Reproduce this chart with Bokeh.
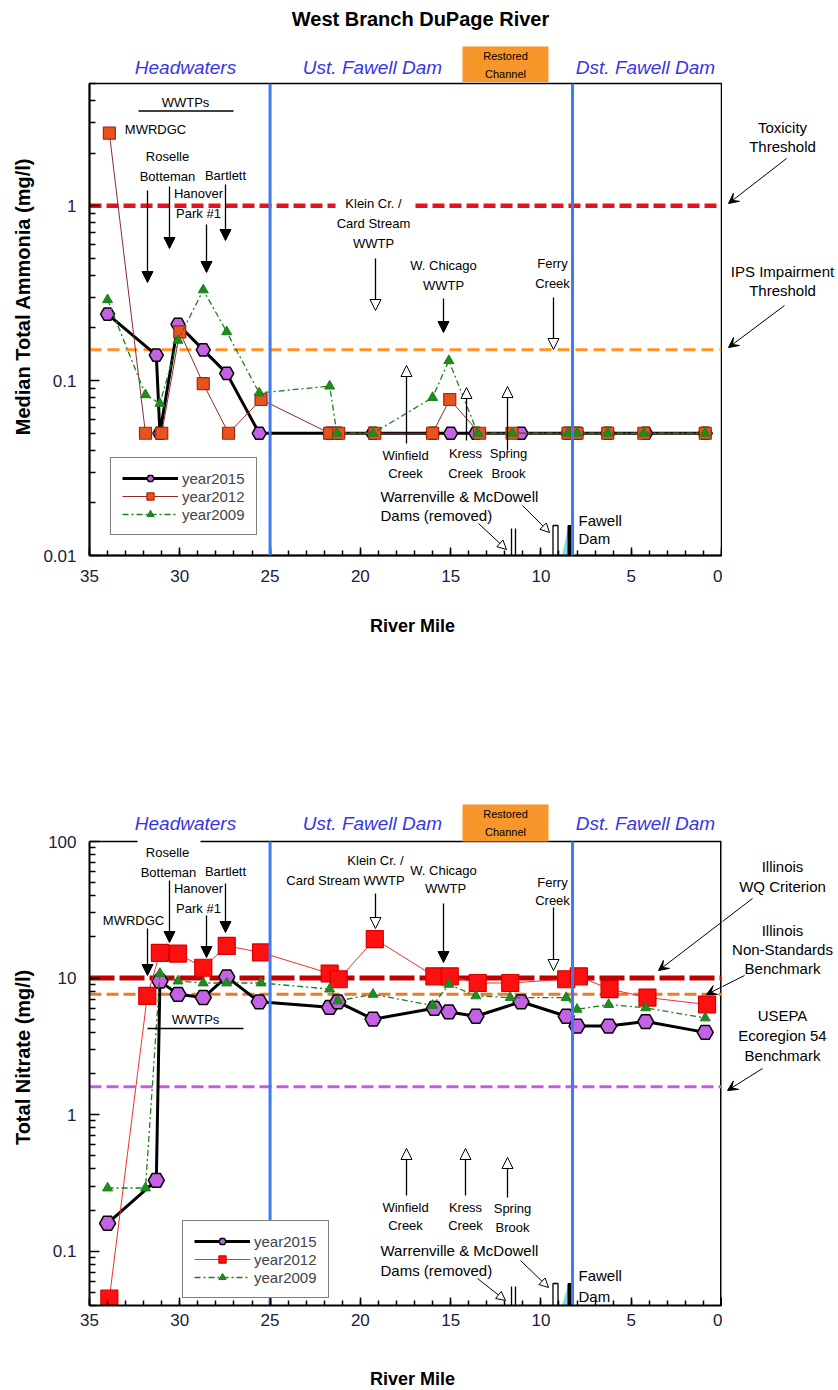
import math
from bokeh.plotting import figure
from bokeh.models import (Label, Arrow, NormalHead, VeeHead, Legend, LegendItem,
                          FixedTicker, Span, Range1d, CustomJSTickFormatter)
from bokeh.layouts import column, row
from bokeh.embed import file_html
from bokeh.resources import INLINE

FONT = "Liberation Sans"

# ------------------------------------------------------------------ data
mile_ticks = [35, 30, 25, 20, 15, 10, 5, 0]
mile_minor = list(range(0, 36))

# Ammonia (mg/l)
nh3_mile_2015 = [34.0, 31.3, 31.1, 30.1, 28.7, 27.4, 25.6, 21.7, 21.25, 19.3, 16.0, 15.0, 13.6, 11.1, 8.5, 8.0, 6.3, 4.2, 0.9]
nh3_2015 = [0.24, 0.14, 0.05, 0.21, 0.15, 0.11, 0.05, 0.05, 0.05, 0.05, 0.05, 0.05, 0.05, 0.05, 0.05, 0.05, 0.05, 0.05, 0.05]
nh3_mile_2012 = [33.9, 31.9, 31.0, 30.0, 28.7, 27.3, 25.5, 21.7, 21.2, 19.2, 16.0, 15.05, 13.4, 11.6, 8.5, 8.0, 6.3, 4.3, 0.9]
nh3_2012 = [2.6, 0.05, 0.05, 0.19, 0.096, 0.05, 0.078, 0.05, 0.05, 0.05, 0.05, 0.078, 0.05, 0.05, 0.05, 0.05, 0.05, 0.05, 0.05]
nh3_mile_2009 = [34.0, 31.9, 31.1, 30.1, 28.7, 27.4, 25.6, 21.7, 21.3, 19.3, 16.0, 15.1, 13.5, 11.6, 8.5, 8.0, 6.3, 4.3, 0.9]
nh3_2009 = [0.29, 0.083, 0.074, 0.17, 0.33, 0.19, 0.085, 0.093, 0.05, 0.05, 0.08, 0.13, 0.05, 0.05, 0.05, 0.05, 0.05, 0.05, 0.05]
nh3_toxicity = 1.0
nh3_ips = 0.15

# Nitrate (mg/l)
no3_mile_2015 = [34.0, 31.3, 31.1, 30.1, 28.7, 27.4, 25.6, 21.7, 21.25, 19.3, 15.9, 15.1, 13.6, 11.1, 8.6, 8.0, 6.25, 4.2, 0.9]
no3_2015 = [0.16, 0.33, 9.5, 7.6, 7.2, 10.2, 6.7, 6.1, 6.7, 5.0, 6.0, 5.65, 5.25, 6.7, 5.25, 4.45, 4.45, 4.8, 4.0]
no3_mile_2012 = [33.9, 31.8, 31.1, 30.1, 28.7, 27.4, 25.5, 21.7, 21.2, 19.2, 15.9, 15.05, 13.5, 11.7, 8.6, 7.9, 6.2, 4.1, 0.8]
no3_2012 = [0.045, 7.4, 15.3, 15.1, 11.9, 17.2, 15.4, 10.8, 9.8, 19.3, 10.3, 10.3, 9.2, 9.2, 9.8, 10.3, 8.3, 7.2, 6.4]
no3_mile_2009 = [34.0, 31.9, 31.1, 30.1, 28.7, 27.4, 25.5, 21.7, 21.25, 19.3, 16.0, 15.1, 13.6, 11.7, 8.6, 8.0, 6.25, 4.2, 0.9]
no3_2009 = [0.29, 0.29, 10.8, 9.5, 9.2, 9.2, 9.2, 8.3, 6.8, 7.6, 6.3, 9.0, 7.4, 7.2, 7.2, 5.9, 6.4, 6.05, 5.1]
no3_wq_criterion = 10.0
no3_non_standards = 7.6
no3_ecoregion54 = 1.6

reach_boundaries = [25.0, 8.25]

# ------------------------------------------------------------------ styles / layout
BLUE_TXT = "#3636E6"
BLUE_LINE = "#3D7CF5"
ORANGE_BOX = "#F7962A"
PAGE_W = 838
LEFT_W = 38
FRAME_L, FRAME_R = 89, 721
SIDE_W = PAGE_W - FRAME_R - 1


def px_to_mile(px):
    return 35 - (px - FRAME_L) * 35.0 / (FRAME_R - FRAME_L)


def make_y(ytop, ybot, ymin, ymax):
    lo, hi = math.log10(ymin), math.log10(ymax)

    def Y(py):
        return 10 ** (lo + (ybot - py) / float(ybot - ytop) * (hi - lo))
    return Y


def ident(v):
    return v


def overlay_fig(w, h, x0, x1, ytop, ybot):
    f = figure(width=w, height=h, x_range=Range1d(x0, x1), y_range=Range1d(ybot, ytop),
               x_axis_type=None, y_axis_type=None, output_backend="svg",
               toolbar_location=None, min_border_left=0, min_border_right=0,
               min_border_top=0, min_border_bottom=0)
    f.outline_line_color = None
    f.background_fill_color = "white"
    f.border_fill_color = "white"
    return f


def make_chart(h, top_border, frame_h, ymin, ymax, yticks, yminor, xstand):
    p = figure(width=FRAME_R + 1 - LEFT_W, height=h, x_range=Range1d(35, 0),
               y_range=Range1d(ymin, ymax), y_axis_type="log", output_backend="svg",
               toolbar_location=None, min_border_left=FRAME_L - LEFT_W, min_border_right=1,
               min_border_top=top_border, min_border_bottom=h - top_border - frame_h)
    p.xgrid.visible = False
    p.ygrid.visible = False
    p.outline_line_color = "black"
    p.outline_line_width = 1.5
    p.outline_line_alpha = 1.0
    p.background_fill_color = "white"
    p.border_fill_color = "white"
    xa = p.xaxis[0]
    xa.ticker = FixedTicker(ticks=mile_ticks, minor_ticks=mile_minor)
    ya = p.yaxis[0]
    ya.ticker = FixedTicker(ticks=yticks, minor_ticks=yminor)
    ya.formatter = CustomJSTickFormatter(code="return tick.toString();")
    for ax, ml, mn in ((xa, 8, 5), (ya, 10, 6)):
        ax.major_tick_in = ml
        ax.major_tick_out = 0
        ax.minor_tick_in = mn
        ax.minor_tick_out = 0
        ax.axis_line_width = 2
        ax.axis_line_color = "black"
        ax.major_tick_line_color = "black"
        ax.minor_tick_line_color = "black"
        ax.major_tick_line_width = 1.5
        ax.minor_tick_line_width = 1.5
        ax.major_label_text_font = FONT
        ax.major_label_text_font_size = "17px"
        ax.major_label_text_color = "#20203a"
    xa.major_label_standoff = xstand
    ya.major_label_standoff = 13
    return p


def add_texts(p, X, Y, items, size=13):
    for it in items:
        text, px, py = it[0], it[1], it[2]
        o = it[3] if len(it) > 3 else {}
        p.add_layout(Label(x=X(px), y=Y(py), text=text, text_font=FONT,
                           text_font_size="%spx" % o.get("size", size),
                           text_font_style=o.get("style", "normal"),
                           text_color=o.get("color", "black"),
                           text_align=o.get("align", "center"),
                           text_baseline="middle", angle=o.get("angle", 0),
                           background_fill_color=o.get("bg", None)))


def add_arrows(p, X, Y, items, kind, lw=1.3, size=11):
    for (x0, y0, x1, y1) in items:
        if kind == "filled":
            head = NormalHead(size=size, fill_color="black", line_color="black", line_width=1)
        elif kind == "open":
            head = NormalHead(size=size, fill_color="white", line_color="black", line_width=1)
        elif kind == "vee":
            head = VeeHead(size=size, fill_color="black", line_color="black", line_width=1)
        else:
            head = None
        p.add_layout(Arrow(x_start=X(x0), y_start=Y(y0), x_end=X(x1), y_end=Y(y1),
                           end=head, line_color="black", line_width=lw))


def add_series(p, st):
    l15 = p.line(st["m15"], st["v15"], line_color="black", line_width=3)
    s15 = p.scatter(st["m15"], st["v15"], marker="hex", size=st["hsize"],
                    fill_color="#C462E6", line_color="black", line_width=1.5)
    l12 = p.line(st["m12"], st["v12"], line_color=st["c12l"], line_width=1)
    s12 = p.scatter(st["m12"], st["v12"], marker="square", size=st["ssize"],
                    fill_color=st["c12f"], line_color=st["c12e"], line_width=1.2)
    l09 = p.line(st["m09"], st["v09"], line_color="#1E7F1E", line_width=1.3,
                 line_dash="6 3 2 3")
    s09 = p.scatter(st["m09"], st["v09"], marker="triangle", size=10,
                    fill_color="#1E8C1E", line_color="#1E7F1E")
    return [l15, s15], [l12, s12], [l09, s09]


def add_legend(p, groups, loc):
    items = [LegendItem(label=lab, renderers=g) for lab, g in
             zip(["year2015", "year2012", "year2009"], groups)]
    leg = Legend(items=items, location=loc, border_line_color="black",
                 border_line_width=1.5, background_fill_color="white",
                 background_fill_alpha=1.0, label_text_font=FONT,
                 label_text_font_size="15px", glyph_width=56, glyph_height=18,
                 label_height=18, label_standoff=4, padding=11, spacing=0, margin=0)
    p.add_layout(leg)


def add_reach_header(f, X, Y, y_lab, box_top, box_bot):
    f.quad(left=[X(462)], right=[X(548)], top=[Y(box_top)], bottom=[Y(box_bot)],
           fill_color=ORANGE_BOX, line_color=None)
    hdr = {"size": 19, "style": "italic", "color": BLUE_TXT}
    add_texts(f, X, Y, [
        ("Headwaters", 185, y_lab, hdr),
        ("Ust. Fawell Dam", 372, y_lab, hdr),
        ("Dst. Fawell Dam", 645, y_lab, hdr),
        ("Restored", 505, box_top + 9, {"size": 11}),
        ("Channel", 505, box_top + 27, {"size": 11}),
    ])


def add_dams(p, X, Y, ytop, ybot):
    # Warrenville (removed), McDowell (removed), Fawell Dam with its pool
    p.segment(x0=[X(511), X(515)], y0=[Y(ytop + 3), Y(ytop + 3)],
              x1=[X(511), X(515)], y1=[Y(ybot), Y(ybot)], line_color="black", line_width=1.3)
    p.line([X(552.5), X(552.5), X(557.5), X(557.5)], [Y(ybot), Y(ytop), Y(ytop), Y(ybot)],
           line_color="black", line_width=1.3)
    p.patch([X(561.5), X(567.5), X(567.5)], [Y(ybot), Y(ytop + 2), Y(ybot)],
            fill_color="#7FDDF0", line_color=None)
    p.quad(left=[X(567.5)], right=[X(572)], top=[Y(ytop)], bottom=[Y(ybot)],
           fill_color="black", line_color="black")


X = px_to_mile
AXT = {"size": 20, "style": "bold", "angle": math.pi / 2}
XT = {"size": 18, "style": "bold"}
SIDE = {"size": 15}

# ================================================================== TOP chart
T_TOP, T_BOT = 83, 555
C1_BOT = 600
head1 = overlay_fig(PAGE_W, T_TOP - 1, 0, PAGE_W, 0, T_TOP - 1)
add_texts(head1, ident, ident, [("West Branch DuPage River", 420, 18, {"size": 20, "style": "bold"})])
add_reach_header(head1, ident, ident, 67, 46, T_TOP - 1)

H1 = C1_BOT - (T_TOP - 1)
p1 = make_chart(H1, 1, T_BOT - T_TOP, 0.01, 5, [0.01, 0.1, 1],
                [k * 10.0 ** e for e in (-2, -1, 0) for k in range(2, 10) if k * 10.0 ** e <= 5],
                14)
Y1 = make_y(T_TOP, T_BOT, 0.01, 5)

p1.segment(x0=[35, px_to_mile(415)], x1=[px_to_mile(335), 0], y0=[nh3_toxicity] * 2,
           y1=[nh3_toxicity] * 2, line_color="#E3141B", line_width=4.5, line_dash="12 5")
p1.line([35, 0], [nh3_ips, nh3_ips], line_color="#FF9326", line_width=3, line_dash="12 6")

add_dams(p1, X, Y1, 525, T_BOT)
g1 = add_series(p1, dict(m15=nh3_mile_2015, v15=nh3_2015, m12=nh3_mile_2012, v12=nh3_2012,
                         m09=nh3_mile_2009, v09=nh3_2009, hsize=14, ssize=12,
                         c12l="#8C2B2B", c12f="#E8521E", c12e="#A8280A"))
for b in reach_boundaries:
    p1.add_layout(Span(location=b, dimension="height", line_color=BLUE_LINE, line_width=3))

add_texts(p1, X, Y1, [
    ("WWTPs", 185, 102),
    ("MWRDGC", 155, 129),
    ("Roselle", 167, 156), ("Botteman", 167, 176),
    ("Hanover", 198, 193), ("Park #1", 198, 213),
    ("Bartlett", 225, 175),
    ("Klein Cr. /", 373, 203), ("Card Stream", 373, 223), ("WWTP", 373, 243),
    ("W. Chicago", 443, 265), ("WWTP", 443, 285),
    ("Ferry", 552, 263), ("Creek", 552, 283),
    ("Winfield", 405, 455), ("Creek", 405, 473),
    ("Kress", 465, 453), ("Creek", 465, 473),
    ("Spring", 508, 453), ("Brook", 508, 473),
    ("Warrenville & McDowell", 380, 496, {"align": "left", "size": 15}),
    ("Dams (removed)", 380, 515, {"align": "left", "size": 15}),
    ("Fawell", 578, 520, {"align": "left", "size": 15}),
    ("Dam", 578, 538, {"align": "left", "size": 15}),
])
add_arrows(p1, X, Y1, [(138, 110.5, 233, 110.5)], "none", lw=1.3)
add_arrows(p1, X, Y1, [(147, 190, 147, 282), (169, 186, 169, 248), (206, 224, 206, 272),
                       (225, 184, 225, 240), (443, 298, 443, 332)], "filled")
add_arrows(p1, X, Y1, [(375, 258, 375, 310), (553, 297, 553, 349),
                       (406, 443, 406, 365), (466, 440, 466, 387), (507, 450, 507, 386)], "open")
add_arrows(p1, X, Y1, [(478, 523, 506, 549), (522, 505, 549, 532)], "open", lw=1, size=9)
add_legend(p1, g1, (21, 20))

# left / right strips share the chart's frame rows
left1 = overlay_fig(LEFT_W, H1, 0, LEFT_W, T_TOP, T_BOT)
add_texts(left1, ident, ident, [("Median Total Ammonia (mg/l)", 22, 296, AXT)])
side1 = overlay_fig(SIDE_W, H1, FRAME_R + 1, PAGE_W, T_TOP, T_BOT)
add_texts(side1, ident, ident, [
    ("Toxicity", 782, 127, SIDE), ("Threshold", 782, 146, SIDE),
    ("IPS Impairment", 782, 271, SIDE), ("Threshold", 782, 290, SIDE),
])
add_arrows(side1, ident, ident, [(786, 158, 728, 203), (784, 305, 728, 347)], "vee", lw=1, size=10)

# ================================================================== middle strip
B_FTOP = 790            # frame of the bottom chart starts here (header row drawn inside it)
B_TOP, B_BOT = 841, 1305  # the 100 ... 0.04 plotting box
mid = overlay_fig(PAGE_W, B_FTOP - C1_BOT, 0, PAGE_W, C1_BOT, B_FTOP)
add_texts(mid, ident, ident, [("River Mile", 412, 625, XT)])

# ================================================================== BOTTOM chart
NO3_MIN, NO3_MAX = 0.04, 100
Y2 = make_y(B_TOP, B_BOT, NO3_MIN, NO3_MAX)
C2_BOT = 1345
H2 = C2_BOT - B_FTOP
p2 = make_chart(H2, 0, B_BOT - B_FTOP, NO3_MIN, Y2(B_FTOP), [0.1, 1, 10, 100],
                [k * 10.0 ** e for e in (-2, -1, 0, 1) for k in range(2, 10)
                 if NO3_MIN <= k * 10.0 ** e <= NO3_MAX],
                8)
p2.yaxis[0].bounds = (NO3_MIN, NO3_MAX)
p2.outline_line_color = None
# box edges (top, broken behind the Roselle label, and right) of the plotting area
p2.segment(x0=[35, X(200)], x1=[X(137), 0], y0=[NO3_MAX] * 2, y1=[NO3_MAX] * 2,
           line_color="black", line_width=1.5)
p2.line([0, 0], [NO3_MIN, NO3_MAX], line_color="black", line_width=3)

add_reach_header(p2, X, Y2, 823, 804, B_TOP)

p2.line([35, 0], [no3_wq_criterion] * 2, line_color="#C00000", line_width=5, line_dash="25 5")
p2.line([35, 0], [no3_non_standards] * 2, line_color="#F07A22", line_width=3, line_dash="12 5")
p2.line([35, 0], [no3_ecoregion54] * 2, line_color="#C65BE0", line_width=3, line_dash="12 5")

add_dams(p2, X, Y2, 1283, B_BOT)
g2 = add_series(p2, dict(m15=no3_mile_2015, v15=no3_2015, m12=no3_mile_2012, v12=no3_2012,
                         m09=no3_mile_2009, v09=no3_2009, hsize=16, ssize=17,
                         c12l="#F03030", c12f="#FF1010", c12e="#D40000"))
p2.segment(x0=reach_boundaries, x1=reach_boundaries, y0=[NO3_MIN] * 2, y1=[NO3_MAX] * 2,
           line_color=BLUE_LINE, line_width=3)

add_texts(p2, X, Y2, [
    ("WWTPs", 195, 1019, {"bg": "white"}),
    ("MWRDGC", 133, 920),
    ("Roselle", 167, 852), ("Botteman", 168, 872),
    ("Hanover", 198, 888), ("Park #1", 198, 908),
    ("Bartlett", 225, 871),
    ("Klein Cr. /", 375, 860), ("Card Stream WWTP", 345, 880),
    ("W. Chicago", 443, 870), ("WWTP", 445, 888),
    ("Ferry", 552, 882), ("Creek", 552, 900),
    ("Winfield", 405, 1207), ("Creek", 405, 1225),
    ("Kress", 465, 1207), ("Creek", 465, 1225),
    ("Spring", 512, 1208), ("Brook", 512, 1227),
    ("Warrenville & McDowell", 380, 1250, {"align": "left", "size": 15}),
    ("Dams (removed)", 380, 1270, {"align": "left", "size": 15}),
    ("Fawell", 578, 1275, {"align": "left", "size": 15}),
    ("Dam", 578, 1296, {"align": "left", "size": 15}),
])
add_arrows(p2, X, Y2, [(147, 1028, 243, 1028)], "none", lw=1.3)
add_arrows(p2, X, Y2, [(147, 928, 147, 975), (169, 880, 169, 942), (206, 915, 206, 957),
                       (225, 883, 225, 932), (443, 903, 443, 962)], "filled")
add_arrows(p2, X, Y2, [(375, 893, 375, 928), (553, 907, 553, 970),
                       (406, 1195, 406, 1148), (465, 1195, 465, 1148), (507, 1197, 507, 1157)], "open")
add_arrows(p2, X, Y2, [(477, 1278, 505, 1300), (520, 1260, 548, 1287)], "open", lw=1, size=9)
right_arrows2 = [(752, 898, 658, 970), (744, 975, 706, 994), (762, 1068, 727, 1090)]
add_arrows(p2, X, Y2, right_arrows2[:2], "vee", lw=1, size=10)
add_legend(p2, g2, (93, 7))

left2 = overlay_fig(LEFT_W, H2, 0, LEFT_W, B_FTOP, B_BOT)
add_texts(left2, ident, ident, [("Total Nitrate (mg/l)", 22, 1057, AXT)])
side2 = overlay_fig(SIDE_W, H2, FRAME_R + 1, PAGE_W, B_FTOP, B_BOT)
add_texts(side2, ident, ident, [
    ("Illinois", 782, 866, SIDE), ("WQ Criterion", 782, 886, SIDE),
    ("Illinois", 782, 930, SIDE), ("Non-Standards", 782, 949, SIDE),
    ("Benchmark", 782, 968, SIDE),
    ("USEPA", 782, 1015, SIDE), ("Ecoregion 54", 782, 1035, SIDE),
    ("Benchmark", 782, 1055, SIDE),
])
add_arrows(side2, ident, ident, right_arrows2, "vee", lw=1, size=10)

foot = overlay_fig(PAGE_W, 1390 - C2_BOT, 0, PAGE_W, C2_BOT, 1390)
add_texts(foot, ident, ident, [("River Mile", 412, 1378, XT)])

layout = column(head1, row(left1, p1, side1), mid, row(left2, p2, side2), foot)
open("out.html", "w").write(file_html(layout, INLINE))
